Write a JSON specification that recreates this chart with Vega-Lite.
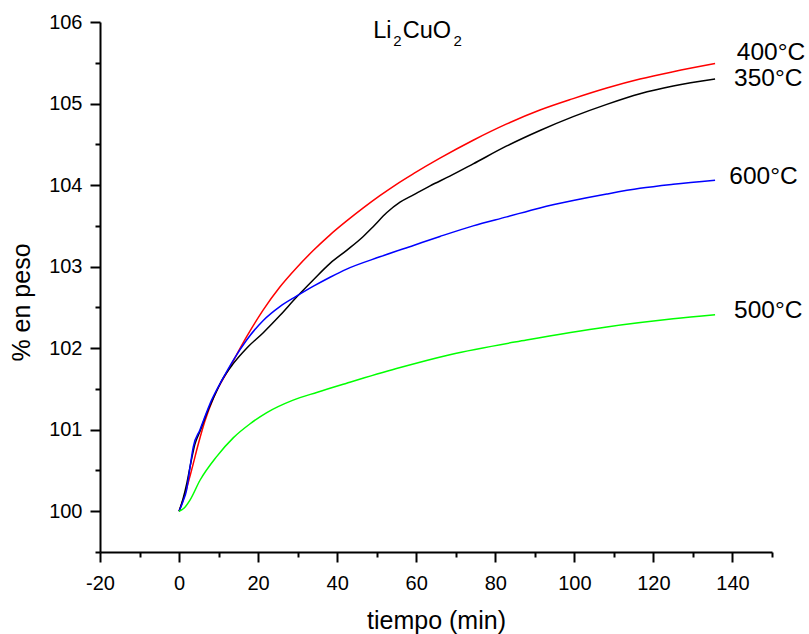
{
  "$schema": "https://vega.github.io/schema/vega-lite/v6.json",
  "autosize": {"type": "none"},
  "width": 672,
  "height": 530,
  "padding": {"left": 100, "top": 22, "right": 37, "bottom": 82},
  "background": "white",
  "config": {
    "font": "Liberation Sans",
    "view": {"stroke": null},
    "axis": {"grid": false, "domainColor": "black", "tickColor": "black", "labelColor": "black", "titleColor": "black", "domainWidth": 2, "tickWidth": 2, "labelFont": "Liberation Sans", "titleFont": "Liberation Sans", "labelFontSize": 20, "titleFontSize": 25, "titleFontWeight": "normal", "labelOverlap": false, "labelFlush": false}
  },
  "encoding": {
    "x": {
      "field": "t", "type": "quantitative",
      "scale": {"domain": [-20, 150], "nice": false, "zero": false},
      "axis": {
        "title": "tiempo (min)",
        "values": [-20, -10, 0, 10, 20, 30, 40, 50, 60, 70, 80, 90, 100, 110, 120, 130, 140, 150],
        "labelExpr": "datum.value % 20 === 0 ? toString(datum.value) : ''",
        "tickSize": {"condition": {"test": "datum.value % 20 === 0", "value": 10}, "value": 5},
        "labelPadding": 11,
        "titlePadding": 15
      }
    },
    "y": {
      "field": "w", "type": "quantitative",
      "scale": {"domain": [99.5, 106], "nice": false, "zero": false},
      "axis": {
        "title": "% en peso",
        "values": [99.5, 100, 100.5, 101, 101.5, 102, 102.5, 103, 103.5, 104, 104.5, 105, 105.5, 106],
        "labelExpr": "datum.value % 1 === 0 ? toString(datum.value) : ''",
        "tickSize": {"condition": {"test": "datum.value % 1 === 0", "value": 10}, "value": 5},
        "labelPadding": 8,
        "titlePadding": 14,
        "titleY": 280
      }
    }
  },
  "layer": [
    {
      "data": {"values": [
        {"s": "400°C", "t": 0, "w": 100},
        {"s": "400°C", "t": 1.3, "w": 100.18},
        {"s": "400°C", "t": 3.2, "w": 100.51},
        {"s": "400°C", "t": 4.9, "w": 100.83},
        {"s": "400°C", "t": 6.5, "w": 101.1},
        {"s": "400°C", "t": 8.7, "w": 101.39},
        {"s": "400°C", "t": 12.9, "w": 101.77},
        {"s": "400°C", "t": 17.1, "w": 102.14},
        {"s": "400°C", "t": 21.3, "w": 102.47},
        {"s": "400°C", "t": 25.5, "w": 102.75},
        {"s": "400°C", "t": 29.8, "w": 102.99},
        {"s": "400°C", "t": 34, "w": 103.2},
        {"s": "400°C", "t": 38.2, "w": 103.39},
        {"s": "400°C", "t": 42.4, "w": 103.56},
        {"s": "400°C", "t": 46.6, "w": 103.72},
        {"s": "400°C", "t": 50.8, "w": 103.87},
        {"s": "400°C", "t": 55, "w": 104.01},
        {"s": "400°C", "t": 59.3, "w": 104.14},
        {"s": "400°C", "t": 66, "w": 104.33},
        {"s": "400°C", "t": 74.4, "w": 104.55},
        {"s": "400°C", "t": 82.9, "w": 104.75},
        {"s": "400°C", "t": 91.3, "w": 104.92},
        {"s": "400°C", "t": 99.7, "w": 105.06},
        {"s": "400°C", "t": 108.2, "w": 105.19},
        {"s": "400°C", "t": 116.6, "w": 105.3},
        {"s": "400°C", "t": 125, "w": 105.39},
        {"s": "400°C", "t": 135.6, "w": 105.49},
        {"s": "350°C", "t": 0, "w": 100},
        {"s": "350°C", "t": 1, "w": 100.15},
        {"s": "350°C", "t": 2, "w": 100.35},
        {"s": "350°C", "t": 3, "w": 100.6},
        {"s": "350°C", "t": 4, "w": 100.82},
        {"s": "350°C", "t": 5.3, "w": 100.98},
        {"s": "350°C", "t": 7, "w": 101.2},
        {"s": "350°C", "t": 8.7, "w": 101.39},
        {"s": "350°C", "t": 11, "w": 101.62},
        {"s": "350°C", "t": 13.7, "w": 101.81},
        {"s": "350°C", "t": 17.1, "w": 102.0},
        {"s": "350°C", "t": 21.3, "w": 102.19},
        {"s": "350°C", "t": 25.5, "w": 102.4},
        {"s": "350°C", "t": 29.8, "w": 102.63},
        {"s": "350°C", "t": 34, "w": 102.84},
        {"s": "350°C", "t": 38.2, "w": 103.04},
        {"s": "350°C", "t": 42.4, "w": 103.2},
        {"s": "350°C", "t": 46.6, "w": 103.37},
        {"s": "350°C", "t": 49.1, "w": 103.49},
        {"s": "350°C", "t": 52.5, "w": 103.66},
        {"s": "350°C", "t": 55.9, "w": 103.79},
        {"s": "350°C", "t": 59.3, "w": 103.88},
        {"s": "350°C", "t": 63.5, "w": 103.99},
        {"s": "350°C", "t": 68.5, "w": 104.11},
        {"s": "350°C", "t": 74.4, "w": 104.26},
        {"s": "350°C", "t": 82.9, "w": 104.48},
        {"s": "350°C", "t": 91.3, "w": 104.67},
        {"s": "350°C", "t": 99.7, "w": 104.84},
        {"s": "350°C", "t": 108.2, "w": 104.99},
        {"s": "350°C", "t": 116.6, "w": 105.12},
        {"s": "350°C", "t": 125, "w": 105.215},
        {"s": "350°C", "t": 135.6, "w": 105.3},
        {"s": "600°C", "t": 0, "w": 100},
        {"s": "600°C", "t": 1, "w": 100.12},
        {"s": "600°C", "t": 1.9, "w": 100.26},
        {"s": "600°C", "t": 2.8, "w": 100.55},
        {"s": "600°C", "t": 3.6, "w": 100.79},
        {"s": "600°C", "t": 5.3, "w": 101.0},
        {"s": "600°C", "t": 8.2, "w": 101.36},
        {"s": "600°C", "t": 11, "w": 101.62},
        {"s": "600°C", "t": 13.7, "w": 101.85},
        {"s": "600°C", "t": 17.1, "w": 102.1},
        {"s": "600°C", "t": 21.3, "w": 102.34},
        {"s": "600°C", "t": 25.5, "w": 102.51},
        {"s": "600°C", "t": 29.8, "w": 102.64},
        {"s": "600°C", "t": 34, "w": 102.76},
        {"s": "600°C", "t": 38.2, "w": 102.87},
        {"s": "600°C", "t": 42.4, "w": 102.97},
        {"s": "600°C", "t": 50.8, "w": 103.12},
        {"s": "600°C", "t": 59.3, "w": 103.26},
        {"s": "600°C", "t": 66, "w": 103.37},
        {"s": "600°C", "t": 74.4, "w": 103.5},
        {"s": "600°C", "t": 82.9, "w": 103.61},
        {"s": "600°C", "t": 91.3, "w": 103.72},
        {"s": "600°C", "t": 99.7, "w": 103.81},
        {"s": "600°C", "t": 108.2, "w": 103.89},
        {"s": "600°C", "t": 116.6, "w": 103.96},
        {"s": "600°C", "t": 125, "w": 104.01},
        {"s": "600°C", "t": 135.6, "w": 104.06},
        {"s": "500°C", "t": 0, "w": 100},
        {"s": "500°C", "t": 1.3, "w": 100.04},
        {"s": "500°C", "t": 2.8, "w": 100.14},
        {"s": "500°C", "t": 5.3, "w": 100.38},
        {"s": "500°C", "t": 9.5, "w": 100.67},
        {"s": "500°C", "t": 13.7, "w": 100.9},
        {"s": "500°C", "t": 17.9, "w": 101.07},
        {"s": "500°C", "t": 22.2, "w": 101.21},
        {"s": "500°C", "t": 28.7, "w": 101.36},
        {"s": "500°C", "t": 35, "w": 101.46},
        {"s": "500°C", "t": 42.4, "w": 101.57},
        {"s": "500°C", "t": 55, "w": 101.75},
        {"s": "500°C", "t": 68.5, "w": 101.92},
        {"s": "500°C", "t": 87.9, "w": 102.1},
        {"s": "500°C", "t": 108.2, "w": 102.26},
        {"s": "500°C", "t": 125, "w": 102.36},
        {"s": "500°C", "t": 135.6, "w": 102.41}
      ]},
      "mark": {"type": "line", "strokeWidth": 1.5, "interpolate": "monotone"},
      "encoding": {
        "color": {"field": "s", "type": "nominal", "scale": {"domain": ["350°C", "400°C", "500°C", "600°C"], "range": ["#000000", "#ff0000", "#00ff00", "#0000ff"]}, "legend": null},
        "detail": {"field": "s"}
      }
    },
    {
      "data": {"values": [
        {"t": 141.1, "w": 105.53, "label": "400°C"},
        {"t": 140.4, "w": 105.21, "label": "350°C"},
        {"t": 139.2, "w": 104.01, "label": "600°C"},
        {"t": 140.4, "w": 102.37, "label": "500°C"}
      ]},
      "mark": {"type": "text", "align": "left", "baseline": "alphabetic", "fontSize": 24.5, "font": "Liberation Sans", "color": "black", "clip": false},
      "encoding": {"text": {"field": "label"}}
    },
    {
      "data": {"values": [
        {"t": 49.1, "w": 105.8, "txt": "Li"},
        {"t": 56.6, "w": 105.8, "txt": "CuO"}
      ]},
      "mark": {"type": "text", "align": "left", "baseline": "alphabetic", "fontSize": 23.5, "font": "Liberation Sans", "color": "black"},
      "encoding": {"text": {"field": "txt"}}
    },
    {
      "data": {"values": [
        {"t": 54.2, "w": 105.706, "txt": "2"},
        {"t": 69.4, "w": 105.706, "txt": "2"}
      ]},
      "mark": {"type": "text", "align": "left", "baseline": "alphabetic", "fontSize": 15, "font": "Liberation Sans", "color": "black"},
      "encoding": {"text": {"field": "txt"}}
    }
  ]
}
